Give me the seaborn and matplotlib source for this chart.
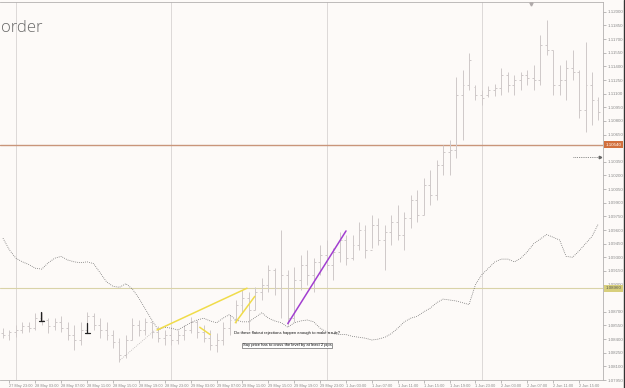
import numpy as np
import pandas as pd
import matplotlib
matplotlib.use("Agg")
import matplotlib.pyplot as plt
import matplotlib.transforms as mtransforms
import seaborn as sns

sns.set_theme(style="white")
plt.rcParams['font.family'] = ['Liberation Sans', 'DejaVu Sans']

# ---------------- data (hourly OHLC bars) ----------------
high = [1.0852, 1.0850, 1.0856, 1.0859, 1.0859, 1.0869, 1.0870, 1.0863, 1.0863, 1.0865,
        1.0859, 1.0856, 1.0859, 1.0870, 1.0869, 1.0863, 1.0859, 1.0850, 1.0841, 1.0845,
        1.0863, 1.0861, 1.0863, 1.0859, 1.0854, 1.0850, 1.0852, 1.0850, 1.0856, 1.0864,
        1.0861, 1.0856, 1.0850, 1.0847, 1.0859, 1.0867, 1.0883, 1.0894, 1.0892, 1.0897,
        1.0907, 1.0922, 1.0918, 1.0960, 1.0916, 1.0919, 1.0933, 1.0938, 1.0929, 1.0944,
        1.0949, 1.0940, 1.0958, 1.0955, 1.0955, 1.0969, 1.0966, 1.0977, 1.0973, 1.0966,
        1.0977, 1.0988, 1.0980, 1.0999, 1.1004, 1.1017, 1.1026, 1.1037, 1.1054, 1.1059,
        1.1128, 1.1136, 1.1155, 1.1120, 1.1114, 1.1118, 1.1121, 1.1138, 1.1134, 1.1131,
        1.1134, 1.1136, 1.1142, 1.1175, 1.1191, 1.1158, 1.1142, 1.1147, 1.1158, 1.1136,
        1.1167, 1.1134, 1.1106]
low = [1.0841, 1.0839, 1.0842, 1.0847, 1.0848, 1.0850, 1.0856, 1.0847, 1.0850, 1.0848,
       1.0839, 1.0828, 1.0834, 1.0848, 1.0850, 1.0841, 1.0839, 1.0830, 1.0815, 1.0819,
       1.0839, 1.0843, 1.0845, 1.0841, 1.0837, 1.0834, 1.0834, 1.0835, 1.0839, 1.0847,
       1.0841, 1.0837, 1.0828, 1.0826, 1.0834, 1.0845, 1.0858, 1.0869, 1.0850, 1.0872,
       1.0883, 1.0892, 1.0889, 1.0863, 1.0856, 1.0859, 1.0894, 1.0900, 1.0892, 1.0911,
       1.0916, 1.0905, 1.0925, 1.0922, 1.0927, 1.0938, 1.0929, 1.0940, 1.0944, 1.0916,
       1.0944, 1.0949, 1.0938, 1.0962, 1.0969, 1.0977, 1.0988, 1.0993, 1.1021, 1.1021,
       1.1039, 1.1059, 1.1114, 1.1103, 1.1098, 1.1106, 1.1107, 1.1109, 1.1112, 1.1109,
       1.1114, 1.1120, 1.1114, 1.1120, 1.1153, 1.1109, 1.1109, 1.1103, 1.1125, 1.1083,
       1.1068, 1.1076, 1.1081]
open_ = [1.0847, 1.0845, 1.0848, 1.0850, 1.0854, 1.0852, 1.0863, 1.0861, 1.0854, 1.0859,
         1.0852, 1.0845, 1.0839, 1.0850, 1.0865, 1.0856, 1.0850, 1.0845, 1.0837, 1.0823,
         1.0839, 1.0856, 1.0850, 1.0859, 1.0848, 1.0841, 1.0845, 1.0839, 1.0845, 1.0850,
         1.0859, 1.0848, 1.0841, 1.0834, 1.0839, 1.0852, 1.0861, 1.0878, 1.0885, 1.0872,
         1.0892, 1.0900, 1.0916, 1.0896, 1.0911, 1.0863, 1.0905, 1.0922, 1.0911, 1.0925,
         1.0933, 1.0922, 1.0936, 1.0949, 1.0929, 1.0944, 1.0960, 1.0938, 1.0966, 1.0949,
         1.0958, 1.0969, 1.0955, 1.0973, 1.0993, 1.0977, 1.1010, 1.0999, 1.1031, 1.1046,
         1.1048, 1.1108, 1.1120, 1.1117, 1.1108, 1.1108, 1.1114, 1.1116, 1.1131, 1.1120,
         1.1125, 1.1131, 1.1127, 1.1125, 1.1164, 1.1158, 1.1120, 1.1125, 1.1138, 1.1134,
         1.1092, 1.1120, 1.1103]
close = [1.0845, 1.0848, 1.0850, 1.0854, 1.0852, 1.0863, 1.0861, 1.0854, 1.0859, 1.0852,
         1.0845, 1.0839, 1.0850, 1.0865, 1.0856, 1.0850, 1.0845, 1.0837, 1.0823, 1.0839,
         1.0856, 1.0850, 1.0859, 1.0848, 1.0841, 1.0845, 1.0839, 1.0845, 1.0850, 1.0859,
         1.0848, 1.0841, 1.0834, 1.0839, 1.0852, 1.0861, 1.0878, 1.0885, 1.0872, 1.0892,
         1.0900, 1.0916, 1.0896, 1.0911, 1.0863, 1.0905, 1.0922, 1.0911, 1.0925, 1.0933,
         1.0922, 1.0936, 1.0949, 1.0929, 1.0944, 1.0960, 1.0938, 1.0966, 1.0949, 1.0958,
         1.0969, 1.0955, 1.0973, 1.0993, 1.0977, 1.1010, 1.0999, 1.1031, 1.1046, 1.1048,
         1.1108, 1.1120, 1.1147, 1.1108, 1.1105, 1.1114, 1.1116, 1.1131, 1.1120, 1.1125,
         1.1131, 1.1127, 1.1125, 1.1164, 1.1158, 1.1120, 1.1125, 1.1138, 1.1134, 1.1092,
         1.1120, 1.1103, 1.1090]
ma = [1.0951, 1.0938, 1.0929, 1.0925, 1.0922, 1.0918, 1.0917, 1.0924, 1.0929, 1.0931,
      1.0927, 1.0925, 1.0924, 1.0925, 1.0923, 1.0913, 1.0903, 1.0898, 1.0897, 1.0901,
      1.0895, 1.0885, 1.0873, 1.0861, 1.0850, 1.0853, 1.0852, 1.0850, 1.0854, 1.0858,
      1.0861, 1.0863, 1.0860, 1.0858, 1.0863, 1.0867, 1.0861, 1.0859, 1.0859, 1.0864,
      1.0869, 1.0863, 1.0860, 1.0858, 1.0853, 1.0858, 1.0860, 1.0861, 1.0859, 1.0852,
      1.0848, 1.0846, 1.0845, 1.0845, 1.0843, 1.0842, 1.0841, 1.0839, 1.0840, 1.0842,
      1.0846, 1.0852, 1.0859, 1.0863, 1.0865, 1.0870, 1.0874, 1.0880, 1.0884, 1.0883,
      1.0882, 1.0880, 1.0878, 1.0900, 1.0911, 1.0918, 1.0925, 1.0928, 1.0928, 1.0925,
      1.0929, 1.0936, 1.0945, 1.0950, 1.0955, 1.0952, 1.0949, 1.0931, 1.0930, 1.0937,
      1.0945, 1.0953, 1.0967]

price_ticks = [1.1200, 1.1185, 1.1170, 1.1155, 1.1140, 1.1125, 1.1110, 1.1095, 1.1080,
               1.1065, 1.1035, 1.1020, 1.1005, 1.0990, 1.0975, 1.0960, 1.0945,
               1.0930, 1.0915, 1.0900, 1.0870, 1.0855, 1.0840, 1.0825, 1.0810,
               1.0795]
time_tick_bars = [1, 5, 9, 13, 17, 21, 25, 29, 33, 37, 41, 45, 49, 53, 57, 61, 65,
                  69, 73, 77, 81, 85, 89]
time_labels = ["27 May 23:00", "28 May 03:00", "28 May 07:00", "28 May 11:00",
               "28 May 15:00", "28 May 19:00", "28 May 23:00", "29 May 03:00",
               "29 May 07:00", "29 May 11:00", "29 May 15:00", "29 May 19:00",
               "29 May 23:00", "1 Jun 03:00", "1 Jun 07:00", "1 Jun 11:00",
               "1 Jun 15:00", "1 Jun 19:00", "1 Jun 23:00", "2 Jun 03:00",
               "2 Jun 07:00", "2 Jun 11:00", "2 Jun 15:00"]
day_separators = [2, 26, 50, 74]
resistance_level = 1.1054
support_level = 1.0896
current_price = 1.1040

yellow_lines = [((23.8, 1.0850), (37.7, 1.0896)),
                ((35.9, 1.0858), (38.9, 1.0887)),
                ((30.4, 1.0853), (32.0, 1.0845))]
purple_line = ((44.0, 1.0857), (53.0, 1.0959))
zigzag = ((18.1, 1.0817), (23.5, 1.0850))
arrow_marks = [(5.9, 1.0870, 1.0860), (13.0, 1.0858, 1.0847)]

note1 = "Do these flatout rejections happen enough to make a rule?"
note2 = "Say price has to cross the level by at least 2 pips"

# ---------------- figure ----------------
bg = '#fdfaf8'
fig = plt.figure(figsize=(6.25, 3.88), dpi=100, facecolor=bg)
ax = fig.add_axes([0, 8 / 388, 603 / 625, 378.5 / 388])
ax.set_facecolor(bg)

n = len(high)
bars = np.arange(n)
df = pd.DataFrame({'bar': bars, 'high': high, 'low': low, 'open': open_,
                   'close': close, 'ma': ma})

# separators
for s in day_separators:
    ax.axvline(s, color='#dcd8d8', lw=0.7, zorder=0)

# levels
ax.axhline(resistance_level, color='#c9957a', lw=1.0, zorder=1)
ax.axhline(support_level, color='#d9d3a8', lw=0.8, zorder=1)

# OHLC bars
bar_col = '#cfc9c9'
ax.vlines(df['bar'], df['low'], df['high'], color=bar_col, lw=0.7, zorder=2)
ax.hlines(df['open'], df['bar'] - 0.3, df['bar'], color=bar_col, lw=0.7, zorder=2)
ax.hlines(df['close'], df['bar'], df['bar'] + 0.3, color=bar_col, lw=0.7, zorder=2)

# moving average (dotted)
sns.lineplot(data=df, x='bar', y='ma', ax=ax, color='#5e5e5e', lw=0.55,
             linestyle=(0, (1, 1.6)), zorder=3)

# drawn trend lines
for (x0, y0), (x1, y1) in yellow_lines:
    ax.plot([x0, x1], [y0, y1], color='#f0dc4a', lw=1.1, zorder=4)
ax.plot([purple_line[0][0], purple_line[1][0]], [purple_line[0][1], purple_line[1][1]],
        color='#a23fd0', lw=1.1, zorder=4)
ax.plot([zigzag[0][0], zigzag[1][0]], [zigzag[0][1], zigzag[1][1]],
        color='#b8b4b4', lw=0.6, linestyle=(0, (1, 1.5)), zorder=3)

# arrow marks
for xm, ytop, ybot in arrow_marks:
    ax.plot([xm, xm], [ytop, ybot], color='#222222', lw=0.9, zorder=5)
    ax.plot([xm - 0.4, xm + 0.4], [ybot, ybot], color='#222222', lw=0.9, zorder=5)

# current price dashed arrow
ax.plot([88.1, 92.3], [current_price, current_price], color='#666666', lw=0.6,
        linestyle=(0, (1, 1.2)), zorder=5)
ax.plot([92.3], [current_price], marker='>', ms=1.8, color='#666666', zorder=5)

# top marker
ax.plot([81.6], [1.1209], marker='v', ms=2.2, color='#b0aaaa', clip_on=False, zorder=5)

# notes
ax.text(43.9, 1.0847, note1, fontsize=3.0, color='#111111', ha='center', va='center',
        zorder=6)
ax.text(43.9, 1.0833, note2, fontsize=3.0, color='#111111', ha='center', va='center',
        zorder=6, bbox=dict(facecolor='white', edgecolor='#444444', lw=0.4, pad=0.6))

# title fragment
fig.text(1 / 625, 1 - 28 / 388, 'order', ha='left', va='center', fontsize=12,
         color='#6a6a6a', family=['Open Sans', 'DejaVu Sans'], fontweight='light')

# limits and axes
ax.set_xlim(-0.46, 92.7)
ax.set_ylim(1.0795, 1.12114)
ax.set_xlabel('')
ax.set_ylabel('')
ax.yaxis.tick_right()
ax.set_yticks(price_ticks)
ax.set_yticklabels([f'{p:.5f}' for p in price_ticks])
ax.set_xticks(time_tick_bars)
ax.set_xticklabels(time_labels)
for lbl in ax.get_xticklabels():
    lbl.set_ha('left')
ax.tick_params(axis='y', which='both', right=True, length=2, width=0.4, pad=1.5,
               labelsize=3.2, colors='#8a8a8a')
ax.tick_params(axis='x', which='both', bottom=True, length=2, width=0.4, pad=1.0,
               labelsize=2.8, colors='#8a8a8a')
ax.spines['left'].set_visible(False)
for side in ['right', 'bottom', 'top']:
    ax.spines[side].set_visible(True)
    ax.spines[side].set_color('#b4b0b0')
    ax.spines[side].set_linewidth(0.6)

# price boxes on the right axis
trans = mtransforms.blended_transform_factory(ax.transAxes, ax.transData)
ax.text(1.004, resistance_level, f'{resistance_level:.5f}', transform=trans,
        fontsize=3.2, color='white', va='center', ha='left', clip_on=False,
        bbox=dict(facecolor='#d2703d', edgecolor='none', pad=1.0), zorder=7)
ax.text(1.004, support_level, f'{support_level:.5f}', transform=trans,
        fontsize=3.2, color='#555555', va='center', ha='left', clip_on=False,
        bbox=dict(facecolor='#d8cf7c', edgecolor='none', pad=1.0), zorder=7)

# window border on right
fig.add_artist(plt.Line2D([0.9985, 0.9985], [0, 1], color='#333333', lw=1.0,
                          transform=fig.transFigure))

fig.savefig('out.png', dpi=100, facecolor=bg)
